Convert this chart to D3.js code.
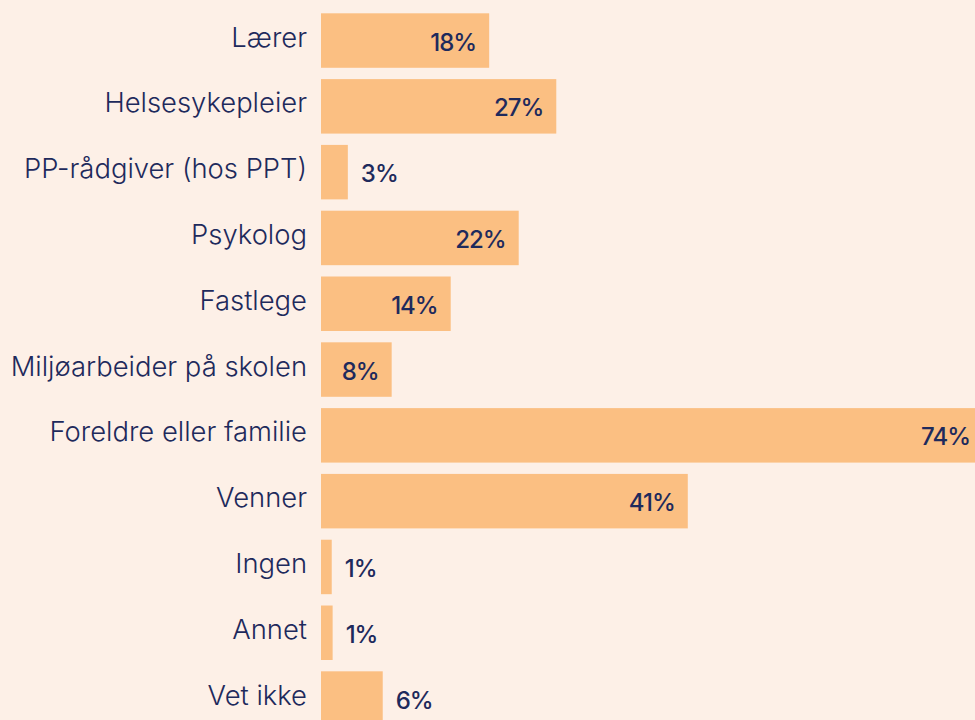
<!DOCTYPE html>
<html lang="no">
  <head>
    <meta charset="UTF-8" />
    <title>Hvem snakker du med</title>
    <style>
      body { margin: 0; background: #fdf0e7; }
      svg { display: block; }
    </style>
  </head>
  <body>
    <svg id="container" width="975" height="720">
      <g id="body"></g>
    </svg>
  </body>
  <script src="https://cdn.jsdelivr.net/npm/d3@7"></script>
  <script>
    // categories, top to bottom
    let categories = ["Lærer", "Helsesykepleier", "PP-rådgiver (hos PPT)", "Psykolog", "Fastlege",
      "Miljøarbeider på skolen", "Foreldre eller familie", "Venner", "Ingen", "Annet", "Vet ikke"];
    // bar lengths in percent
    let shares = [18.8, 26.3, 3.0, 22.1, 14.5, 7.9, 74.0, 41.0, 1.2, 1.3, 6.9];
    // printed value labels
    let shareLabels = ["18%", "27%", "3%", "22%", "14%", "8%", "74%", "41%", "1%", "1%", "6%"];

    let data = categories.map((c, i) => ({ name: c, value: shares[i], label: shareLabels[i] }));

    let width = 975, height = 720;
    let body = d3.select("#body");
    let navy = "#1e2a5c";
    let font = "Inter, 'Noto Sans', sans-serif";

    body.append("rect").attr("width", width).attr("height", height).attr("fill", "#fdf0e7");

    let x = d3.scaleLinear().domain([0, 74]).range([321, 983]);
    let y = d3.scaleBand().domain(categories).range([13.3, 725.8]).paddingInner(0.172).paddingOuter(0);

    // bars
    body.selectAll("rect.bar").data(data).enter().append("rect")
      .attr("class", "bar")
      .attr("x", x(0))
      .attr("y", d => y(d.name))
      .attr("width", d => x(d.value) - x(0))
      .attr("height", y.bandwidth())
      .attr("fill", "#fbbf82");

    // category labels
    body.selectAll("text.cat").data(data).enter().append("text")
      .attr("class", "cat")
      .attr("x", 307)
      .attr("y", d => y(d.name) + y.bandwidth() / 2 + 6)
      .attr("text-anchor", "end")
      .attr("font-family", font)
      .attr("font-size", 27.4)
      .attr("font-weight", 350)
      .attr("fill", navy)
      .text(d => d.name);

    // value labels: inside the bar when it's wide enough, otherwise after it
    let inside = d => d.value >= 7.5;
    body.selectAll("text.val").data(data).enter().append("text")
      .attr("class", "val")
      .attr("x", d => inside(d) ? x(d.value) - 13 : x(d.value) + 13)
      .attr("y", d => y(d.name) + y.bandwidth() / 2 + 10)
      .attr("text-anchor", d => inside(d) ? "end" : "start")
      .attr("font-family", font)
      .attr("font-size", 24)
      .attr("font-weight", 450)
      .attr("letter-spacing", -1)
      .attr("fill", navy)
      .text(d => d.label);
  </script>
</html>
